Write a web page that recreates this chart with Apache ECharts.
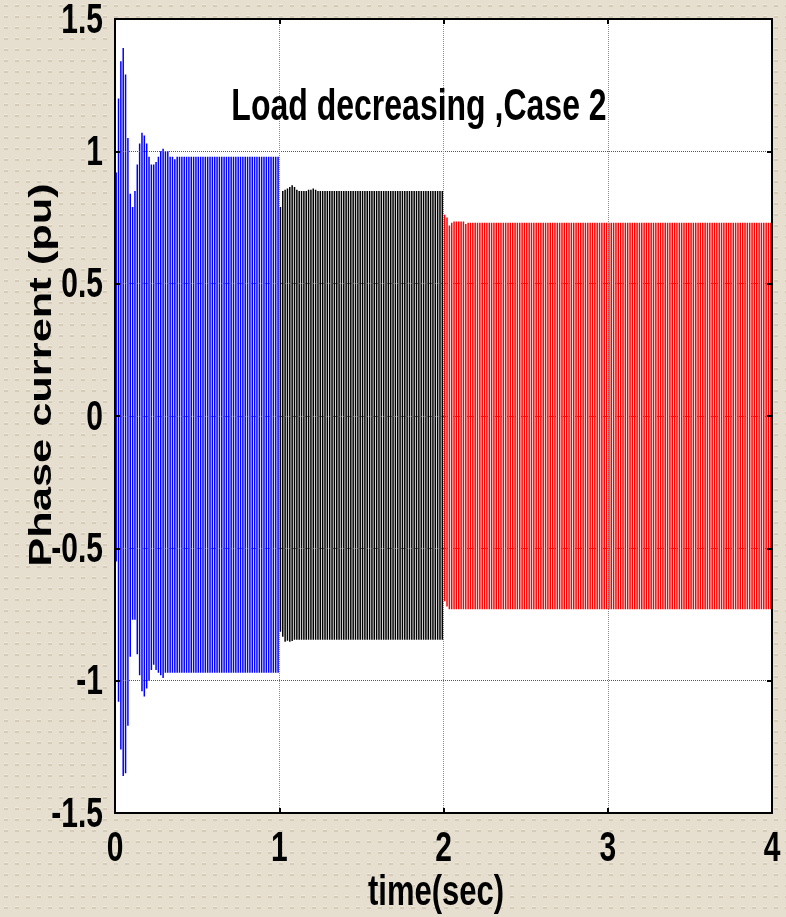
<!DOCTYPE html>
<html>
<head>
<meta charset="utf-8">
<script src="https://cdn.jsdelivr.net/npm/echarts@6/dist/echarts.min.js"></script>
<style>
  html, body { margin: 0; padding: 0; background: #e4ddcc; }
  #chart { width: 786px; height: 917px; }
</style>
</head>
<body>
<div id="chart"></div>
<script>
// Phase current trace, drawn as one upper/lower peak pair per trace cycle.
const peakRate = 70; // trace cycles per second

// 0 – 1 s (blue): start-up transient, then steady peaks
const blueTop = [0.92, 1.20, 1.34, 1.39, 1.29, 1.05, 0.84, 0.79, 0.85, 0.95, 1.03, 1.07, 1.06, 1.03,
                 0.98, 0.95, 0.95, 0.96, 0.98, 1.00, 1.01, 1.00, 1.00, 0.98, 0.98, 0.97, 0.98];
const blueBottom = [-0.55, -1.08, -1.26, -1.36, -1.35, -1.17, -0.91, -0.77, -0.77, -0.90, -0.98, -1.04,
                    -1.06, -1.03, -1.00, -0.96, -0.94, -0.96, -0.97, -0.98, -0.99, -0.97, -0.97];
const blueSteady = [0.98, -0.97];

// 1 – 2 s (black)
const blackTop = [0.79, 0.85, 0.855, 0.86, 0.865, 0.872, 0.865, 0.855, 0.85, 0.85, 0.85, 0.85,
                  0.855, 0.855, 0.86, 0.855, 0.85];
const blackBottom = [-0.815, -0.834, -0.853, -0.849, -0.853, -0.85, -0.845];
const blackSteady = [0.85, -0.845];

// 2 – 4 s (red)
const redTop = [0.76, 0.75, 0.72, 0.73, 0.735, 0.735, 0.735, 0.735, 0.735, 0.725];
const redBottom = [-0.70, -0.72, -0.73, -0.73];
const redSteady = [0.73, -0.73];

const xTicks = [0, 1, 2, 3, 4];
const xTickLabels = ['0', '1', '2', '3', '4'];
const yTicks = [-1.5, -1, -0.5, 0, 0.5, 1, 1.5];
const yTickLabels = ['-1.5', '-1', '-0.5', '0', '0.5', '1', '1.5'];

const titleText = 'Load decreasing ,Case 2';
const xName = 'time(sec)';
const yName = 'Phase current (pu)';

// rows: [time, lower peak, upper peak]
function buildSegment(firstCycle, cycles, top, bottom, steady) {
  const rows = [];
  for (let i = 0; i < cycles; i++) {
    const t = (firstCycle + i + 0.5) / peakRate;
    const hi = i < top.length ? top[i] : steady[0];
    const lo = i < bottom.length ? bottom[i] : steady[1];
    rows.push([t, lo, hi]);
  }
  return rows;
}

const blueRows = buildSegment(0, peakRate, blueTop, blueBottom, blueSteady);
const blackRows = buildSegment(peakRate, peakRate, blackTop, blackBottom, blackSteady);
const redRows = buildSegment(2 * peakRate, 2 * peakRate, redTop, redBottom, redSteady);

// Textured slide background
(function () {
  const tile = document.createElement('canvas');
  tile.width = 11; tile.height = 11;
  const c = tile.getContext('2d');
  c.fillStyle = '#e6dfcf';
  c.fillRect(0, 0, 11, 11);
  c.fillStyle = '#d4ccb9';
  c.fillRect(4, 5, 4, 2);
  c.fillStyle = '#eee8da';
  c.fillRect(4, 4, 4, 1);
  document.body.style.backgroundImage = 'url(' + tile.toDataURL() + ')';
})();

const chart = echarts.init(document.getElementById('chart'), null, { renderer: 'canvas' });

function peakSeries(name, rows, color) {
  return {
    name: name,
    type: 'custom',
    xAxisIndex: 0,
    yAxisIndex: 0,
    z: 1,
    clip: true,
    data: rows,
    encode: { x: 0, y: [1, 2] },
    renderItem: function (params, api) {
      const t = api.value(0);
      const top = api.coord([t, api.value(2)]);
      const bot = api.coord([t, api.value(1)]);
      return {
        type: 'line',
        shape: { x1: top[0], y1: top[1], x2: bot[0], y2: bot[1] },
        style: { stroke: color, lineWidth: 1.5 }
      };
    }
  };
}

const frameLine = { show: true, onZero: false, lineStyle: { color: '#000', width: 2 } };
const innerTick = { show: true, inside: true, length: 5, lineStyle: { color: '#000', width: 2 } };

chart.setOption({
  backgroundColor: 'transparent',
  animation: false,
  grid: { left: 115, right: 14, top: 19, bottom: 104, show: true, backgroundColor: '#ffffff', borderWidth: 0 },
  xAxis: [
    {
      type: 'value', min: 0, max: 4, interval: 1, position: 'bottom', z: 3,
      axisLine: frameLine, axisTick: innerTick, axisLabel: { show: false },
      splitLine: { show: true, lineStyle: { type: 'dotted', color: '#8a8a8a', width: 1 } }
    },
    {
      type: 'value', min: 0, max: 4, interval: 1, position: 'top', z: 3,
      axisLine: frameLine, axisTick: innerTick, axisLabel: { show: false }, splitLine: { show: false }
    }
  ],
  yAxis: [
    {
      type: 'value', min: -1.5, max: 1.5, interval: 0.5, position: 'left', z: 3,
      axisLine: frameLine, axisTick: innerTick, axisLabel: { show: false },
      splitLine: { show: true, lineStyle: { type: 'dotted', color: '#555', width: 1 } }
    },
    {
      type: 'value', min: -1.5, max: 1.5, interval: 0.5, position: 'right', z: 3,
      axisLine: frameLine, axisTick: innerTick, axisLabel: { show: false }, splitLine: { show: false }
    }
  ],
  series: [
    peakSeries('0-1 s', blueRows, '#0000ff'),
    peakSeries('1-2 s', blackRows, '#000000'),
    peakSeries('2-4 s', redRows, '#ff0000')
  ]
});

// Text: bold face, stretched vertically
const FONT = '"Liberation Sans", Arial, Helvetica, sans-serif';
function label(text, x, y, size, align, extra) {
  return Object.assign({
    type: 'text', x: x, y: y, z: 100, scaleY: 1.4,
    style: {
      text: text, font: 'bold ' + size + 'px ' + FONT, fill: '#000',
      align: align, verticalAlign: 'middle', textAlign: align, textVerticalAlign: 'middle'
    }
  }, extra || {});
}

const texts = [];
xTicks.forEach(function (v, i) {
  const px = chart.convertToPixel({ xAxisIndex: 0 }, v);
  texts.push(label(xTickLabels[i], px, 849, 30, 'center'));
});
yTicks.forEach(function (v, i) {
  const py = chart.convertToPixel({ yAxisIndex: 0 }, v);
  texts.push(label(yTickLabels[i], 103, py + 2, 30, 'right'));
});
texts.push(label(titleText, 419, 108, 32, 'center'));
texts.push(label(xName, 436, 893, 31, 'center'));
texts.push(label(yName, 42, 375, 31, 'center', { scaleY: 1, scaleX: 1.4, rotation: Math.PI / 2 }));

chart.setOption({ graphic: { elements: texts } });
</script>
</body>
</html>
